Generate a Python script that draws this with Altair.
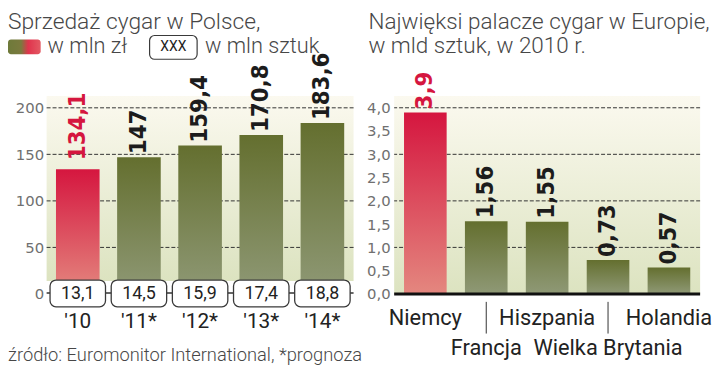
import altair as alt
import pandas as pd

# ---------------- data ----------------
years = ["'10", "'11*", "'12*", "'13*", "'14*"]
sales_pln = [134.1, 147, 159.4, 170.8, 183.6]        # mln zł (bars)
sales_units = [13.1, 14.5, 15.9, 17.4, 18.8]         # mln sztuk (boxes)
countries = ["Niemcy", "Francja", "Hiszpania", "Wielka Brytania", "Holandia"]
consumption = [3.9, 1.56, 1.55, 0.73, 0.57]          # mld sztuk
left_ticks = [0, 50, 100, 150, 200]
left_grid = [50, 100, 150, 200]
right_ticks = [0.0, 0.5, 1.0, 1.5, 2.0, 2.5, 3.0, 3.5, 4.0]
right_grid = [1.0, 2.0, 3.0, 4.0]
second_row = ["Francja", "Wielka Brytania"]

title_left = "Sprzedaż cygar w Polsce,"
legend_pln = "w mln zł"
legend_box = "XXX"
legend_units = "w mln sztuk"
source_txt = "źródło: Euromonitor International, *prognoza"
title_right_1 = "Najwięksi palacze cygar w Europie,"
title_right_2 = "w mld sztuk, w 2010 r."

# ---------------- styles ----------------
W1, W2, H = 310, 309, 200
FONT = "Roboto"
AXFONT = "DejaVu Sans"
NUMFONT = "DejaVu Sans Condensed, DejaVu Sans"
GREY = "#474747"


def vgrad(top, bottom):
    return alt.Gradient(gradient="linear",
                        stops=[alt.GradientStop(color=top, offset=0),
                               alt.GradientStop(color=bottom, offset=1)],
                        x1=0, x2=0, y1=0, y2=1)


RED = vgrad("#d5163f", "#e4877f")
GREEN = vgrad("#646f2f", "#8f9976")
BG = vgrad("#fbf9ef", "#dce3c0")
SWATCH = alt.Gradient(gradient="linear",
                      stops=[alt.GradientStop(color="#6e7a3a", offset=0),
                             alt.GradientStop(color="#7a7a3e", offset=0.4),
                             alt.GradientStop(color="#e0344d", offset=0.62),
                             alt.GradientStop(color="#e35a64", offset=1)],
                      x1=0, x2=1, y1=0, y2=0)

one = pd.DataFrame({"k": [0]})


def label_text(x, y, txt, size=22, align="left", weight=300, color=GREY):
    return alt.Chart(one).mark_text(align=align, baseline="middle", font=FONT,
                                    fontWeight=weight, fontSize=size,
                                    color=color).encode(
        x=alt.value(x), y=alt.value(y), text=alt.value(txt))


# ---------------- left panel ----------------
ldf = pd.DataFrame({"year": years, "value": sales_pln, "units": sales_units,
                    "hl": [i == 0 for i in range(len(years))]})
lgrid = pd.DataFrame({"value": left_grid})

lxaxis = alt.Axis(title=None, ticks=False, domain=False, labelAngle=0,
                  labelFont=FONT, labelFontSize=21, labelColor="#222",
                  labelPadding=17)
lyaxis = alt.Axis(title=None, values=left_ticks, grid=False, ticks=False,
                  domain=False, labelFont=AXFONT, labelFontWeight="normal",
                  labelFontSize=15, labelColor="#707070", labelPadding=3)
lxscale = alt.Scale(paddingInner=0.287, paddingOuter=0.153)
lyscale = alt.Scale(domain=[0, 212.8], nice=False)
lx = alt.X("year:N", sort=None, scale=lxscale, axis=lxaxis)
ly = alt.Y("value:Q", scale=lyscale, axis=lyaxis)

l_pin = alt.Chart(one).mark_rule(strokeOpacity=0).encode(y=alt.value(-87))

l_bg = alt.Chart(one).mark_rect(color=BG).encode(
    x=alt.value(0), x2=alt.value(W1), y=alt.value(0), y2=alt.value(H - 13))

l_grid = alt.Chart(lgrid).mark_rule(color="#333", strokeWidth=1,
                                    strokeDash=[4, 2]).encode(y=ly)

base_l = alt.Chart(ldf).transform_calculate(
    lbl="replace(toString(datum.value), '.', ',')",
    ulbl="replace(toString(datum.units), '.', ',')")

l_bars_red = base_l.transform_filter("datum.hl").mark_bar(color=RED).encode(x=lx, y=ly)
l_bars_green = base_l.transform_filter("!datum.hl").mark_bar(color=GREEN).encode(x=lx, y=ly)

l_lbl_green = base_l.transform_filter("!datum.hl").mark_text(
    angle=270, align="left", baseline="middle", dx=3, font=NUMFONT,
    fontSize=24, fontWeight="bold", color="#1c1c1c").encode(x=lx, y=ly, text="lbl:N")
l_lbl_red = base_l.transform_filter("datum.hl").mark_text(
    angle=270, align="left", baseline="middle", dx=9, font=NUMFONT,
    fontSize=24, fontWeight="bold", color="#d5163f").encode(x=lx, y=ly, text="lbl:N")

l_conn = alt.Chart(one).mark_rule(color="#333", strokeWidth=1.5).encode(
    y=alt.value(H - 1))

l_boxes = base_l.mark_bar(width=56, fill="white", stroke="#3a3a3a",
                          strokeWidth=1.3, cornerRadius=6).encode(
    x=lx, y=alt.value(H - 14), y2=alt.value(H + 13))
l_boxtxt = base_l.mark_text(font=FONT, fontSize=18, color="#222",
                            baseline="middle").encode(
    x=lx, y=alt.value(H), text="ulbl:N")

l_title = label_text(-39, -75, title_left, size=23)
l_swatch = alt.Chart(one).mark_rect(color=SWATCH, cornerRadius=3).encode(
    x=alt.value(-39), x2=alt.value(-6), y=alt.value(-57), y2=alt.value(-42))
l_leg1 = label_text(1, -50, legend_pln)
l_legbox = alt.Chart(one).mark_rect(fill="white", stroke="#3a3a3a", strokeWidth=1.2,
                                    cornerRadius=5).encode(
    x=alt.value(104), x2=alt.value(152), y=alt.value(-61), y2=alt.value(-37))
l_legboxtxt = label_text(128, -49, legend_box, size=14, align="center",
                         weight=400, color="#222")
l_leg2 = label_text(160, -50, legend_units)
l_source = label_text(-39, H + 62, source_txt, size=18.5)

left = alt.layer(l_pin, l_bg, l_grid, l_bars_red, l_bars_green, l_lbl_green,
                 l_lbl_red, l_conn, l_boxes, l_boxtxt, l_title, l_swatch, l_leg1,
                 l_legbox, l_legboxtxt, l_leg2, l_source).properties(width=W1, height=H)

# ---------------- right panel ----------------
rdf = pd.DataFrame({"country": countries, "value": consumption,
                    "hl": [i == 0 for i in range(len(countries))]})
rgrid = pd.DataFrame({"value": right_grid})
rsep = pd.DataFrame({"country": second_row})

rxaxis = alt.Axis(title=None, ticks=False, domain=False, labelAngle=0,
                  labelFont=FONT, labelFontSize=22, labelColor="#222",
                  labelPadding=14, labelLineHeight=30,
                  labelExpr="indexof(" + str(second_row) +
                  ", datum.value) >= 0 ? ['', datum.value] : datum.value")
ryaxis = alt.Axis(title=None, values=right_ticks, grid=False, ticks=False,
                  domain=False, labelFont=AXFONT, labelFontWeight="normal",
                  labelFontSize=15, labelColor="#707070", labelPadding=4,
                  labelExpr="replace(format(datum.value, '.1f'), '.', ',')")
rxscale = alt.Scale(paddingInner=0.30, paddingOuter=0.162)
ryscale = alt.Scale(domain=[0, 4.255], nice=False)
rx = alt.X("country:N", sort=countries, scale=rxscale, axis=rxaxis)
ry = alt.Y("value:Q", scale=ryscale, axis=ryaxis)

r_pin = alt.Chart(one).mark_rule(strokeOpacity=0).encode(y=alt.value(-87))
r_bg = alt.Chart(one).mark_rect(color=BG).encode(
    x=alt.value(0), x2=alt.value(W2), y=alt.value(0), y2=alt.value(H))
r_grid = alt.Chart(rgrid).mark_rule(color="#333", strokeWidth=1,
                                    strokeDash=[4, 2]).encode(y=ry)

base_r = alt.Chart(rdf).transform_calculate(
    lbl="replace(toString(datum.value), '.', ',')")

r_bars_red = base_r.transform_filter("datum.hl").mark_bar(color=RED).encode(x=rx, y=ry)
r_bars_green = base_r.transform_filter("!datum.hl").mark_bar(color=GREEN).encode(x=rx, y=ry)
r_lbl_green = base_r.transform_filter("!datum.hl").mark_text(
    angle=270, align="left", baseline="middle", dx=3, font=NUMFONT,
    fontSize=24, fontWeight="bold", color="#1c1c1c").encode(x=rx, y=ry, text="lbl:N")
r_lbl_red = base_r.transform_filter("datum.hl").mark_text(
    angle=270, align="left", baseline="middle", dx=3, font=NUMFONT,
    fontSize=24, fontWeight="bold", color="#d5163f").encode(x=rx, y=ry, text="lbl:N")

r_base = alt.Chart(one).mark_rule(color="#111", strokeWidth=3).encode(
    y=alt.value(H))
r_sep = alt.Chart(rsep).mark_rule(color="#333", strokeWidth=1).encode(
    x=rx, y=alt.value(H + 8), y2=alt.value(H + 40))

r_title1 = label_text(-26, -75, title_right_1, size=22.7)
r_title2 = label_text(-26, -50, title_right_2, size=22.7)

right = alt.layer(r_pin, r_bg, r_grid, r_bars_red, r_bars_green, r_lbl_green,
                  r_lbl_red, r_base, r_sep, r_title1, r_title2).properties(
    width=W2, height=H)

chart = alt.hconcat(left, right, spacing=41, bounds="flush", padding=0).configure_view(
    stroke=None)

chart.save("out.html", embed_options={"renderer": "svg", "actions": False})
